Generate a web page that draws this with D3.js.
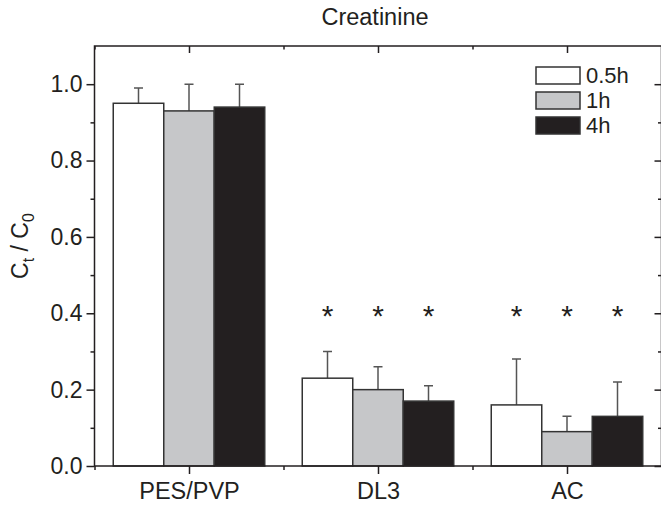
<!DOCTYPE html>
<html>
<head>
<meta charset="utf-8">
<script src="https://cdn.jsdelivr.net/npm/d3@7"></script>
<style>
  body { margin: 0; background: #fff; }
  svg text { font-family: "Liberation Sans", Arial, sans-serif; fill: #231f20; }
</style>
</head>
<body>
<svg id="chart" width="661" height="507"></svg>
<script>
var categories = ["PES/PVP", "DL3", "AC"];
var seriesNames = ["0.5h", "1h", "4h"];
var mean05 = [0.95, 0.23, 0.16];
var err05 = [0.04, 0.07, 0.12];
var mean1 = [0.93, 0.20, 0.09];
var err1 = [0.07, 0.06, 0.04];
var mean4 = [0.94, 0.17, 0.13];
var err4 = [0.06, 0.04, 0.09];
var starred = [false, true, true];
var yMajor = [0, 0.2, 0.4, 0.6, 0.8, 1.0];
var yMinor = [0.1, 0.3, 0.5, 0.7, 0.9];
var xMinor = [0.5, 1.5, 2.5, 3.5];

var fills = ["#ffffff", "#c6c7c9", "#231f20"];
var means = [mean05, mean1, mean4];
var errs = [err05, err1, err4];

// plot box (note: "top" is taken by window.top, so use m* names)
var mLeft = 94.5, mRight = 661.5, mTop = 46, mBottom = 466;

var x = d3.scaleLinear().domain([0.5, 3.5]).range([mLeft, mRight]);
var y = d3.scaleLinear().domain([0, 1.1]).range([mBottom, mTop]);
var barW = 50.5;

var svg = d3.select("#chart");

// bars
var rows = [];
seriesNames.forEach(function(s, si) {
  categories.forEach(function(c, ci) {
    rows.push({s: si, c: ci, v: means[si][ci], e: errs[si][ci]});
  });
});

var bars = svg.append("g");
bars.selectAll("path.err")
    .data(rows)
    .enter()
    .append("path")
    .attr("class", "err")
    .attr("d", function(d) {
      var cx = x(d.c + 1) + (d.s - 1) * barW;
      return "M" + cx + "," + y(d.v) + "V" + y(d.v + d.e) +
             "M" + (cx - 4.5) + "," + y(d.v + d.e) + "H" + (cx + 4.5);
    })
    .attr("stroke", "#555")
    .attr("stroke-width", 1.5)
    .attr("fill", "none");

bars.selectAll("rect")
    .data(rows)
    .enter()
    .append("rect")
    .attr("x", function(d) { return x(d.c + 1) + (d.s - 1.5) * barW; })
    .attr("y", function(d) { return y(d.v); })
    .attr("width", barW)
    .attr("height", function(d) { return y(0) - y(d.v); })
    .attr("fill", function(d) { return fills[d.s]; })
    .attr("stroke", "#333")
    .attr("stroke-width", 1.5);

// stars
svg.append("g")
   .selectAll("text")
   .data(rows.filter(function(d) { return starred[d.c]; }))
   .enter()
   .append("text")
   .attr("x", function(d) { return x(d.c + 1) + (d.s - 1) * barW; })
   .attr("y", y(0.4) + 13)
   .attr("text-anchor", "middle")
   .attr("font-size", "30px")
   .text("*");

// frame
svg.append("rect")
   .attr("x", mLeft).attr("y", mTop)
   .attr("width", mRight - mLeft).attr("height", mBottom - mTop)
   .attr("fill", "none").attr("stroke", "#231f20").attr("stroke-width", 1.5);

function styleAxis(g) {
  g.select(".domain").remove();
  g.selectAll("line").attr("stroke", "#231f20").attr("stroke-width", 1.5);
  g.selectAll("text").attr("font-size", "23px").attr("fill", "#231f20");
}

// left
svg.append("g").attr("transform", "translate(" + mLeft + ",0)")
   .call(d3.axisLeft(y).tickValues(yMajor).tickSize(8).tickPadding(4).tickFormat(d3.format(".1f")))
   .call(styleAxis);
svg.append("g").attr("transform", "translate(" + mLeft + ",0)")
   .call(d3.axisLeft(y).tickValues(yMinor).tickSize(4).tickFormat(""))
   .call(styleAxis);
// right (inward)
svg.append("g").attr("transform", "translate(" + mRight + ",0)")
   .call(d3.axisLeft(y).tickValues(yMajor).tickSize(7).tickFormat(""))
   .call(styleAxis);
svg.append("g").attr("transform", "translate(" + mRight + ",0)")
   .call(d3.axisLeft(y).tickValues(yMinor).tickSize(3.5).tickFormat(""))
   .call(styleAxis);
// bottom
svg.append("g").attr("transform", "translate(0," + mBottom + ")")
   .call(d3.axisBottom(x).tickValues([1, 2, 3]).tickSize(8).tickPadding(8)
         .tickFormat(function(d) { return categories[d - 1]; }))
   .call(styleAxis)
   .selectAll("text").attr("font-size", "23.5px");
svg.append("g").attr("transform", "translate(0," + mBottom + ")")
   .call(d3.axisBottom(x).tickValues(xMinor).tickSize(4).tickFormat(""))
   .call(styleAxis);
// top (inward)
svg.append("g").attr("transform", "translate(0," + mTop + ")")
   .call(d3.axisBottom(x).tickValues([1, 2, 3]).tickSize(7).tickFormat(""))
   .call(styleAxis);
svg.append("g").attr("transform", "translate(0," + mTop + ")")
   .call(d3.axisBottom(x).tickValues(xMinor).tickSize(3.5).tickFormat(""))
   .call(styleAxis);

// title
svg.append("text")
   .attr("x", 375).attr("y", 25)
   .attr("text-anchor", "middle")
   .attr("font-size", "23.5px")
   .text("Creatinine");

// y label
var yl = svg.append("text")
   .attr("transform", "translate(28,246) rotate(-90)")
   .attr("text-anchor", "middle")
   .attr("font-size", "23px");
yl.append("tspan").text("C");
yl.append("tspan").attr("font-size", "16px").attr("dy", 6).text("t");
yl.append("tspan").attr("dy", -6).text(" / C");
yl.append("tspan").attr("font-size", "16px").attr("dy", 6).text("0");

// legend
var legend = svg.append("g").attr("transform", "translate(536,67)");
var items = legend.selectAll("g")
    .data(seriesNames)
    .enter()
    .append("g")
    .attr("transform", function(d, i) { return "translate(0," + i * 25 + ")"; });
items.append("rect")
     .attr("width", 44).attr("height", 17)
     .attr("fill", function(d, i) { return fills[i]; })
     .attr("stroke", "#333").attr("stroke-width", 1.5);
items.append("text")
     .attr("x", 50).attr("y", 16)
     .attr("font-size", "22px")
     .text(function(d) { return d; });
</script>
</body>
</html>
